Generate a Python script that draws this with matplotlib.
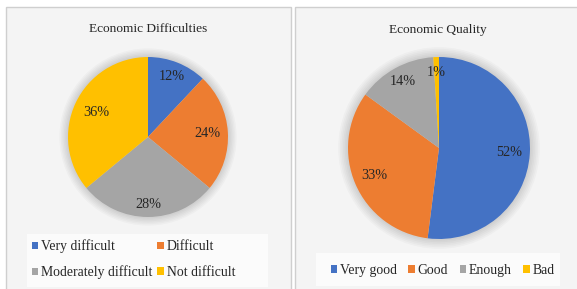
import matplotlib
matplotlib.use("Agg")
import numpy as np
import matplotlib.pyplot as plt
from matplotlib.patches import Rectangle, Circle

plt.rcParams['font.family'] = ['Liberation Serif', 'DejaVu Serif']

# ---- data ----
diff_labels = ["Very difficult", "Difficult", "Moderately difficult", "Not difficult"]
diff_values = [12, 24, 28, 36]
qual_labels = ["Very good", "Good", "Enough", "Bad"]
qual_values = [52, 33, 14, 1]
colors = ["#4472C4", "#ED7D31", "#A5A5A5", "#FFC000"]
titles = ["Economic Difficulties", "Economic Quality"]

W, H = 577, 289
fig = plt.figure(figsize=(W / 100, H / 100), dpi=100)
fig.patch.set_facecolor("white")


def px_box(x0, y0, x1, y1):
    return [x0 / W, 1 - y1 / H, (x1 - x0) / W, (y1 - y0) / H]


def fig_rect(x0, y0, x1, y1, **kw):
    r = Rectangle((x0 / W, 1 - y1 / H), (x1 - x0) / W, (y1 - y0) / H,
                  transform=fig.transFigure, zorder=-5, **kw)
    fig.patches.append(r)


# panels
fig_rect(6, 7, 291, 292, facecolor="#f4f4f4", edgecolor="#cfcfcf", lw=1.0)
fig_rect(295, 7, 580, 292, facecolor="#f4f4f4", edgecolor="#cfcfcf", lw=1.0)
# legend backgrounds
fig_rect(27, 234, 268, 287, facecolor="#fbfbfb", edgecolor="none")
fig_rect(316, 253, 560, 286, facecolor="#fbfbfb", edgecolor="none")


def pie_ax(cx, cy, r, values, dists):
    L = 1.25
    s = r * L
    ax = fig.add_axes(px_box(cx - s, cy - s, cx + s, cy + s))
    ax.set_facecolor("none")
    for k in range(1, 7):
        ax.add_patch(Circle((0, 0), 1 + 0.018 * k, color="black", alpha=0.025,
                            lw=0, zorder=0))
    wedges, texts, autotexts = ax.pie(
        values, colors=colors, startangle=90, counterclock=False,
        autopct=lambda p: f"{p:.0f}%", pctdistance=0.78,
        textprops=dict(fontsize=10.3, color="#262626"),
        wedgeprops=dict(linewidth=0))
    for w, t, d in zip(wedges, autotexts, dists):
        a = np.deg2rad((w.theta1 + w.theta2) / 2)
        t.set_position((d * np.cos(a), d * np.sin(a)))
    ax.set_xlim(-L, L)
    ax.set_ylim(-L, L)
    ax.axis("off")
    return ax, wedges


ax1, w1 = pie_ax(148, 137, 80, diff_values, [0.82, 0.75, 0.84, 0.71])
ax2, w2 = pie_ax(439, 148, 91, qual_values, [0.77, 0.77, 0.83, 0.83])

fig.text(148 / W, 1 - 29.5 / H, titles[0], ha="center", va="center",
         fontsize=9.6, color="#262626")
fig.text(438 / W, 1 - 29.5 / H, titles[1], ha="center", va="center",
         fontsize=9.6, color="#262626")

order = [0, 2, 1, 3]
ax1.legend([w1[i] for i in order], [diff_labels[i] for i in order], ncol=2,
           loc="center left", bbox_to_anchor=(31.5 / W, 1 - 259.5 / H),
           bbox_transform=fig.transFigure, frameon=False, fontsize=9.9,
           handlelength=0.46, handleheight=0.46, handletextpad=0.2,
           columnspacing=0.4, labelspacing=0.9, borderpad=0,
           borderaxespad=0, labelcolor="#262626")
ax2.legend(w2, qual_labels, ncol=4,
           loc="center left", bbox_to_anchor=(330.5 / W, 1 - 270.5 / H),
           bbox_transform=fig.transFigure, frameon=False, fontsize=9.9,
           handlelength=0.46, handleheight=0.46, handletextpad=0.2,
           columnspacing=0.85, borderpad=0, borderaxespad=0,
           labelcolor="#262626")

fig.savefig("out.png", dpi=100)
